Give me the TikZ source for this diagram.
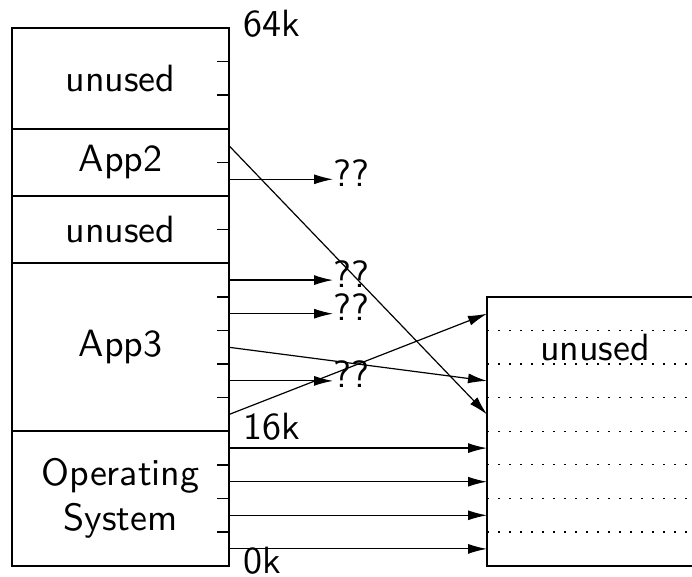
\documentclass[tikz,border=0pt]{standalone}
\usepackage{fontspec}
\setsansfont{lmsans10-regular.otf}
\usetikzlibrary{arrows.meta, positioning, calc}
\newcommand{\pg}{33.6}
\newcommand{\bigsf}{\fontsize{38}{45}\selectfont\sffamily}
\tikzset{
    region/.style={draw, line width=1.8pt, minimum width=217pt, inner sep=0pt,
                   outer sep=0pt, align=center, font=\bigsf},
    tick/.style={line width=1.6pt},
    sep/.style={line width=1.2pt, dash pattern=on 2pt off 9pt},
    map/.style={-{Latex[length=19pt,width=10pt]}, line width=1.2pt},
    qq/.style={anchor=base west, inner sep=0pt, font=\bigsf},
    addr/.style={anchor=base west, inner sep=0pt, font=\bigsf},
}

\begin{document}
\begin{tikzpicture}[x=1pt, y=1pt]
    \useasboundingbox (0,0) rectangle (692,577);
    \clip (0,0) rectangle (692,577);
    % virtual memory
    \node[region, minimum height={4*\pg pt}, anchor=south west] (os) at (12,11.3)
        {Operating\\System};
    \node[region, minimum height={5*\pg pt}, above=0pt of os] (app3) {App3};
    \node[region, minimum height={2*\pg pt}, above=0pt of app3] (unusedMid) {unused};
    \node[region, minimum height={2*\pg pt}, above=0pt of unusedMid] (app2) {App2};
    \node[region, minimum height={3*\pg pt}, above=0pt of app2] (unusedTop) {unused};
    \foreach \k in {1,...,15}
        \draw[tick] ($(os.south east)+(0,{\pg*\k})$) -- ++(-12,0);
    \foreach \k in {0,...,15}
        \coordinate (v\k) at ($(os.south east)+(0,{\pg*(\k+0.5)})$);
    \node[addr] (top) at ($(unusedTop.north east)+(14,-8)$) {64k};
    \node[addr] (mid) at ($(os.north east)+(14,-8)$) {16k};
    \node[addr] (bot) at ($(os.south east)+(14,-8)$) {0k};
    % physical memory
    \node[draw, line width=1.8pt, minimum width=216pt, minimum height={8*\pg pt},
          inner sep=0pt, outer sep=0pt, anchor=south west] (phys) at (487,11.3) {};
    \foreach \j in {1,...,7}
        \draw[sep] ($(phys.south west)+(0,{\pg*\j})$) -- ($(phys.south east)+(0,{\pg*\j})$);
    \draw[line width=1.8pt] (phys.south west) rectangle (phys.north east);
    \foreach \j in {0,...,7}
        \coordinate (f\j) at ($(phys.south west)+(0,{\pg*(\j+0.5)})$);
    \node[font=\bigsf, inner sep=0pt] (free) at ($(phys.south)+(0,{\pg*6.5})$) {unused};
    % unmapped pages
    \foreach \k in {5,7,8,11} {
        \node[qq] (q\k) at ($(v\k)+(104,-7)$) {??};
        \draw[map] (v\k) -- (v\k -| q\k.west);
    }
    % page table
    \foreach \k in {0,...,3}
        \draw[map] (v\k) -- (f\k);
    \draw[map] (v4) -- (f7);
    \draw[map] (v6) -- (f5);
    \draw[map] (v12) -- (f4);
\end{tikzpicture}
\end{document}
